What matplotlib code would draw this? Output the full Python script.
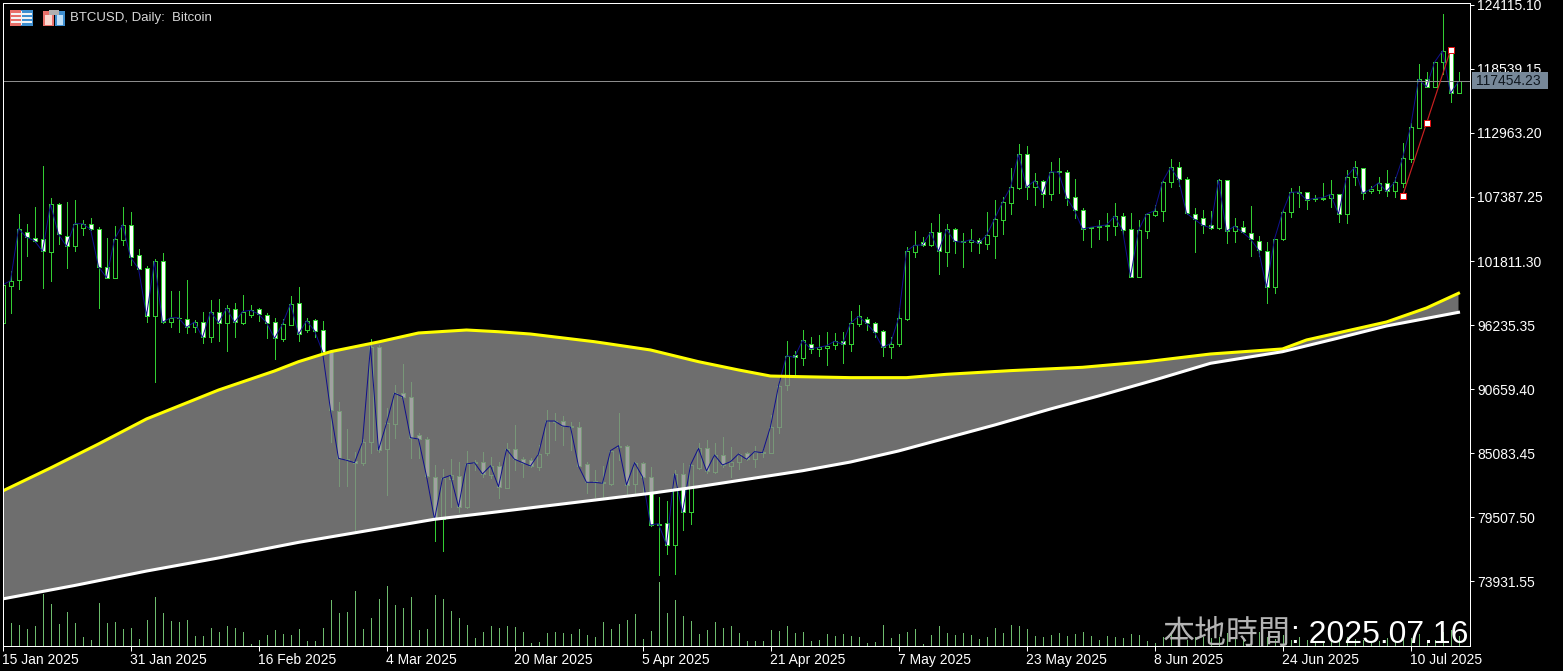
import matplotlib
matplotlib.use("Agg")
import matplotlib.pyplot as plt
from matplotlib.patches import Rectangle
import numpy as np

W, H = 1563, 671

# one candle per day, first one is 15 Jan 2025
opens = [96440,99660,100130,104360,103840,103700,102620,106750,104020,103090,
         104710,105060,104570,101320,100360,103670,104970,102310,101180,97050,
         101790,96470,96820,96790,96040,96520,95160,97400,96380,97660,
         96440,97130,97660,97130,96470,95020,96240,98130,95770,96670,
         95770,94000,88770,84560,84410,84190,86070,94290,85410,87590,
         90340,89990,86650,86280,83020,79310,82850,83110,80350,84330,
         84330,83190,83980,82040,85410,84540,84480,83890,85110,87810,
         87850,87440,87350,84100,82650,82590,82380,85630,85690,82360,
         84190,83020,78840,78960,77070,83230,79920,83750,85490,83460,
         84910,83980,84330,85110,84560,85200,85110,87380,91010,93620,
         93390,94610,94120,94260,94470,94820,94560,96350,96760,96380,
         95740,94290,94610,96760,102620,103440,103180,104310,102600,104570,
         103530,103440,103620,103320,104020,105410,106890,108200,111110,108280,
         108810,107650,109630,109540,107360,106230,104660,104770,104890,104890,
         105710,104570,100440,104400,105850,106140,108670,109980,108930,105930,
         105580,104920,104710,108840,104400,104800,104280,103530,102710,99520,
         103700,106060,107760,107800,107190,107190,107330,107620,105910,109100,
         109940,107880,108010,108630,107880,108630,110720,113430,117640,117000,
         119120,120130,116420]
highs = [100160,100940,105880,105010,106490,110090,107270,106840,106950,107100,
         105380,105530,104750,103790,104840,106490,106080,102860,101400,101960,
         102480,99200,99200,100160,96670,97340,98410,98500,97980,98130,
         98850,97980,97740,97260,96820,96760,98760,99520,96820,96730,
         96590,94060,89550,87180,85200,86300,94990,94490,88980,91010,
         92840,91300,86800,86510,84040,83690,84540,84330,85290,84480,
         85150,84760,84330,85930,87520,84760,84620,85780,88830,88600,
         88310,87810,87810,84330,83600,83980,85350,88540,85780,84330,
         84330,83840,81280,80900,83600,84210,84240,85930,86220,85930,
         86450,85580,85110,85200,85690,85490,88400,91440,94840,93970,
         95770,95220,95370,95630,95510,95650,97430,97980,96910,96470,
         95800,95220,97690,103010,104400,103880,105100,105910,105040,104660,
         104230,104600,103790,106060,107130,107410,109890,112010,111830,109450,
         108870,110410,110760,109740,108930,106460,104800,105380,105970,106840,
         105970,105970,105380,106020,106690,108810,110670,110410,109160,106400,
         106260,106170,108930,108870,105530,105300,106600,103990,103440,103730,
         106320,108150,108350,107820,107560,108630,108870,107650,109740,110520,
         109940,108350,109160,109740,109160,112070,113810,118950,118300,119150,
         123330,120190,118250]
lows = [96410,97310,99350,102250,103490,99490,100100,103320,101230,102710,
        104100,104510,97740,100300,100300,103210,101490,101090,96520,91240,
        96380,96090,95650,95570,95650,94690,94760,94870,93970,95220,
        96320,96960,96610,95130,93270,94870,96240,94870,95650,95220,
        93620,86070,82240,82240,78230,84040,85060,85200,81430,86370,
        89700,84620,84620,83020,77450,76570,80410,79920,80270,83600,
        83020,82880,81140,82010,83600,83020,83890,83600,84910,86220,
        85780,85350,83890,81570,81280,81280,82300,84480,81430,81570,
        81570,78730,74460,76290,74540,78380,78900,83660,83370,83370,
        83890,83020,83660,84480,83890,84740,85090,86850,90570,91880,
        92750,93820,93540,92750,94120,92900,94000,96180,95800,95220,
        93560,93390,94430,96670,102160,103120,103120,100710,101400,102540,
        101320,102710,102540,102860,102100,104160,105910,108060,107210,106690,
        106520,107130,107710,106720,105580,103640,103060,103700,103640,104080,
        104080,100390,100390,103840,105730,105320,108290,108370,105910,102620,
        104280,104600,104630,103350,103490,104230,102270,102250,98180,99000,
        103640,105670,106540,106340,107040,107130,106540,105240,105100,108430,
        107210,107710,107760,107500,107410,108290,110460,113370,116940,116940,
        118100,115690,116420]
closes = [99720,100100,104630,103880,103580,102660,106750,104140,103090,105060,
          105060,104570,101320,100360,103700,104970,102130,101140,97050,101790,
          96470,96870,96870,96040,96500,95160,97400,96440,97690,96470,
          97400,97520,97190,96440,95080,96320,98090,95430,96610,95740,
          93910,88830,84620,84450,84240,86070,94350,85350,87670,90290,
          89990,86420,86300,83080,79310,82880,83140,80410,84130,84240,
          83260,83980,82150,85410,84540,84240,83950,85000,87870,87870,
          87440,87350,83950,82530,82530,82450,85290,85720,82300,84240,
          83020,78810,78930,77070,83260,79920,84040,85490,83520,84910,
          84040,84330,85000,84540,85200,85110,87380,90920,93560,93420,
          94900,94170,94290,94430,94820,94560,96410,96990,96380,95600,
          94290,94610,96820,102680,103180,103210,104310,102660,104570,103530,
          103440,103670,103350,104050,105470,106930,108230,111110,108230,108810,
          107680,109590,109540,107330,106230,104600,104750,104860,104950,105710,
          104510,100440,104490,105910,106190,108720,109980,108930,105970,105450,
          104920,104710,108870,104400,104840,104310,103730,102770,99520,103730,
          106060,107800,107820,107130,107270,107330,107620,105910,109130,109980,
          107710,108060,108630,107880,108670,110760,113460,117640,117000,119120,
          120130,116420,117450]
# tick volume has no scale on the chart, so these are just relative heights
volumes = [10,23,21,17,20,52,42,22,34,23,
           9,6,43,23,24,17,18,7,26,49,
           33,25,24,26,10,10,18,14,20,18,
           14,2,6,11,16,12,11,17,5,5,
           18,46,33,34,55,17,28,47,60,41,
           38,49,16,17,51,47,35,28,21,8,
           14,20,18,20,19,14,3,4,13,14,
           13,12,17,11,9,24,17,22,26,32,
           7,15,64,33,46,30,25,12,16,24,
           18,20,13,5,5,5,16,15,20,13,
           14,5,6,12,10,12,10,9,3,4,
           21,8,12,14,17,2,11,20,13,11,
           13,11,7,9,18,13,21,20,17,10,
           9,11,13,10,12,14,10,6,10,9,
           8,12,11,5,3,9,13,17,6,9,
           9,8,9,13,7,7,11,14,9,7,
           11,6,9,6,5,5,7,7,9,7,
           6,4,5,8,5,9,8,12,6,6,
           14,16,10]

# the two moving averages, read at these bars
yellow_bars = [0,6,12,18,27,34,37,41,47,52,58,62,66,74,81,87,92,96,100,106,113,118,
               126,135,143,151,160,163,173,178,182]
yellow_vals = [81770,83780,85870,88050,90570,92230,93040,93910,94760,95540,95800,95650,
               95450,94780,94060,93040,92320,91790,91730,91650,91650,91940,92260,92550,
               93040,93710,94150,94930,96500,97720,99000]
white_bars = [0,9,18,27,37,54,62,81,87,100,106,112,118,124,131,137,144,151,160,167,173,182]
white_vals = [72370,73540,74800,75940,77300,79310,79970,81570,82150,83540,84300,85260,
              86390,87520,88920,90050,91440,92900,93910,95100,96150,97340]

zigzag_bars = [175, 178, 181]
zigzag_vals = [107450, 113810, 120170]

last_price = 117454.23
price_ticks = [124115.10, 118539.15, 112963.20, 107387.25, 101811.30, 96235.35,
               90659.40, 85083.45, 79507.50, 73931.55]
date_ticks = [0, 16, 32, 48, 64, 80, 96, 112, 128, 144, 160, 176]
date_labels = ["15 Jan 2025", "31 Jan 2025", "16 Feb 2025", "4 Mar 2025", "20 Mar 2025",
               "5 Apr 2025", "21 Apr 2025", "7 May 2025", "23 May 2025", "8 Jun 2025",
               "24 Jun 2025", "10 Jul 2025"]

FONT = "Liberation Sans"
GREEN = "#32cd32"
PX = 0.72  # one pixel in points at dpi 100

fig = plt.figure(figsize=(W / 100, H / 100), dpi=100, facecolor="black")
rect = [2.5 / W, 1 - 645.5 / H, 1467 / W, 643 / H]

# volume sits behind the price axes
ax_vol = fig.add_axes(rect, zorder=1, facecolor="black")
ax = fig.add_axes(rect, zorder=2, facecolor="none")

bars = np.arange(len(closes))
opens, highs, lows, closes = map(np.array, (opens, highs, lows, closes))

ax_vol.vlines(bars, 0, volumes, color="#6dbb6d", linewidth=PX, antialiased=False)
ax_vol.set_xlim(0, 183.375)
ax_vol.set_ylim(0, 643)
ax_vol.axis("off")

# candles, white body = down day, black body = up day
ax.vlines(bars, lows, highs, color=GREEN, linewidth=PX, antialiased=False, zorder=2)
tops = np.maximum(opens, closes)
bottoms = np.minimum(opens, closes)
faces = ["white" if c < o else "black" for o, c in zip(opens, closes)]
ax.bar(bars, tops - bottoms, bottom=bottoms, width=0.5, color=faces, edgecolor=GREEN,
       linewidth=PX, antialiased=False, zorder=3)

# band between the two averages, goes over the candles
ax.fill(list(yellow_bars) + white_bars[::-1], list(yellow_vals) + white_vals[::-1],
        color="#8a8a8a", alpha=0.8, linewidth=0, zorder=4)
ax.plot(bars, closes, color="#10108c", linewidth=PX, zorder=5)
ax.plot(yellow_bars, yellow_vals, color="#ffff00", linewidth=2.2, zorder=6)
ax.plot(white_bars, white_vals, color="white", linewidth=2.2, zorder=6)

ax.axhline(last_price, color="#8c8c8c", linewidth=PX, zorder=6)
ax.plot(zigzag_bars, zigzag_vals, color="#c82020", linewidth=PX * 1.2, marker="s", markersize=4,
        markerfacecolor="white", markeredgecolor="#e01010", markeredgewidth=PX, zorder=7)

ax.set_xlim(0, 183.375)
ax.set_ylim(68314, 124332)
for side in ax.spines:
    ax.spines[side].set_color("white")
    ax.spines[side].set_linewidth(PX)
    ax.spines[side].set_zorder(8)

ax.yaxis.tick_right()
ax.set_yticks(price_ticks)
ax.set_yticklabels([f"{p:.2f}" for p in price_ticks], fontfamily=FONT, fontsize=10, color="white")
ax.tick_params(axis="y", length=3, width=PX, color="white", pad=2.5)
ax.set_xticks(date_ticks)
ax.set_xticklabels(date_labels, fontfamily=FONT, fontsize=10, color="white", ha="left")
ax.tick_params(axis="x", length=3.6, width=PX, color="white", pad=1.5)


def px_box(x0, y0, x1, y1, color, z=10):
    fig.add_artist(Rectangle((x0 / W, 1 - y1 / H), (x1 - x0) / W, (y1 - y0) / H,
                             transform=fig.transFigure, facecolor=color, edgecolor="none", zorder=z))


def px_text(x, y, s, **kw):
    fig.text(x / W, 1 - y / H, s, zorder=11, **kw)


# price tag
px_box(1472, 72, 1548, 89, "#778899")
px_text(1476, 81, "117454.23", fontfamily=FONT, fontsize=10, color="#101820", va="center")

# toolbar icons in the corner
px_box(10, 10, 21, 26, "#e8706a")
px_box(21, 10, 33, 26, "#3f8fd0")
for y in (13, 17, 21):
    px_box(11, y, 32, y + 1.5, "#f4f4f4")
px_box(21, 11, 22, 25, "#f4f4f4")
px_box(43, 11, 54, 26, "#e8706a")
px_box(45, 15, 52, 25, "#fbd8d0")
px_box(55, 11, 65, 26, "#3f8fd0")
px_box(57, 15, 63, 25, "#bfe0f8")
px_box(49, 10, 59, 15, "#b0b0b0")

px_text(70, 18.5, "BTCUSD, Daily:  Bitcoin", fontfamily=FONT, fontsize=9.5, color="#d8d8d8", va="center")

# clock label, bottom right, over the volume bars
px_text(1468, 643, ": 2025.07.16", fontfamily=FONT, fontsize=23, color="white", ha="right", va="baseline")
px_text(1291, 643, "本地時間", fontfamily="Noto Sans CJK TC", fontsize=23, color="#b4b4b4", ha="right", va="baseline")

fig.savefig("out.png", dpi=100, facecolor="black")
